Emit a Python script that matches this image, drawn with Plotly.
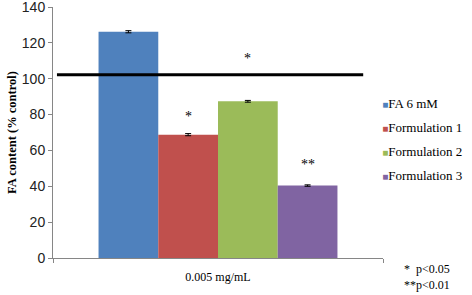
import plotly.graph_objects as go

category = ["0.005 mg/mL"]
series_names = ["FA 6 mM", "Formulation 1", "Formulation 2", "Formulation 3"]
series_values = [126.2, 68.8, 87.4, 40.4]
series_errors = [0.6, 0.6, 0.5, 0.4]
series_colors = ["#4F81BD", "#C0504D", "#9BBB59", "#8064A2"]
significance = ["", "*", "*", "**"]
sig_heights = [0, 79, 111, 52]
control_level = 102.2
y_ticks = [0, 20, 40, 60, 80, 100, 120, 140]

bargap = 0.276
n = len(series_names)
bw = (1 - bargap) / n

fig = go.Figure()
for name, v, e, c in zip(series_names, series_values, series_errors, series_colors):
    fig.add_trace(go.Bar(
        x=category, y=[v], name=name, marker=dict(color=c, line=dict(width=0)),
        error_y=dict(type="data", array=[e], color="#000000", thickness=1, width=3),
        legendgroup=name, showlegend=False,
    ))
# legend entries: small coloured square key written in front of the name
for name, c in zip(series_names, series_colors):
    fig.add_trace(go.Scatter(
        x=[None], y=[None], mode="markers", legendgroup=name,
        name=f"<span style='font-size:10px;color:{c}'>■</span>{name}",
        marker=dict(symbol="square", size=1, color="rgba(0,0,0,0)"), showlegend=True,
    ))

# significance marks
for i, (s, h) in enumerate(zip(significance, sig_heights)):
    if not s:
        continue
    xc = -(1 - bargap) / 2 + bw * (i + 0.5)
    fig.add_annotation(x=xc, y=h, xref="x", yref="y", text=s, showarrow=False,
                       font=dict(family="Liberation Serif", size=14, color="#000"))

# control line
fig.add_shape(type="line", xref="paper", yref="y", x0=0.012, x1=0.94,
              y0=control_level, y1=control_level, line=dict(color="#000", width=3))

fig.add_annotation(xref="paper", yref="paper", x=1.058, y=-0.044, xanchor="left", yanchor="middle",
                   text="*  p<0.05", showarrow=False, font=dict(family="Liberation Serif", size=12, color="#000"))
fig.add_annotation(xref="paper", yref="paper", x=1.058, y=-0.108, xanchor="left", yanchor="middle",
                   text="**p<0.01", showarrow=False, font=dict(family="Liberation Serif", size=12, color="#000"))

fig.update_layout(
    width=472, height=295,
    margin=dict(l=53, r=89, t=7, b=37, autoexpand=False),
    paper_bgcolor="white", plot_bgcolor="white",
    barmode="group", bargap=bargap, bargroupgap=0,
    showlegend=True,
    legend=dict(xref="container", yref="container", x=0.725, y=0.702,
                xanchor="left", yanchor="top",
                font=dict(family="Liberation Serif", size=13, color="#000"),
                tracegroupgap=4, itemwidth=30, bgcolor="rgba(0,0,0,0)"),
    xaxis=dict(showline=True, linecolor="#868686", linewidth=1,
               ticks="outside", tickson="boundaries", ticklen=4, tickcolor="#868686",
               ticklabelstandoff=8,
               tickfont=dict(family="Liberation Serif", size=12, color="#000"),
               range=[-0.5, 0.5]),
    yaxis=dict(range=[0, 140.001], tickvals=y_ticks, showgrid=False, zeroline=False,
               showline=True, linecolor="#868686", linewidth=1,
               ticks="outside", ticklen=4, tickcolor="#868686",
               ticklabeloverflow="allow",
               tickfont=dict(family="Liberation Sans", size=14, color="#222"),
               title=dict(text="<b>FA content (% control)</b>", standoff=2,
                          font=dict(family="Liberation Serif", size=12.5, color="#000"))),
)

fig.write_html("out.html", config={"displayModeBar": False},
               post_script="document.body.style.margin='0';")
